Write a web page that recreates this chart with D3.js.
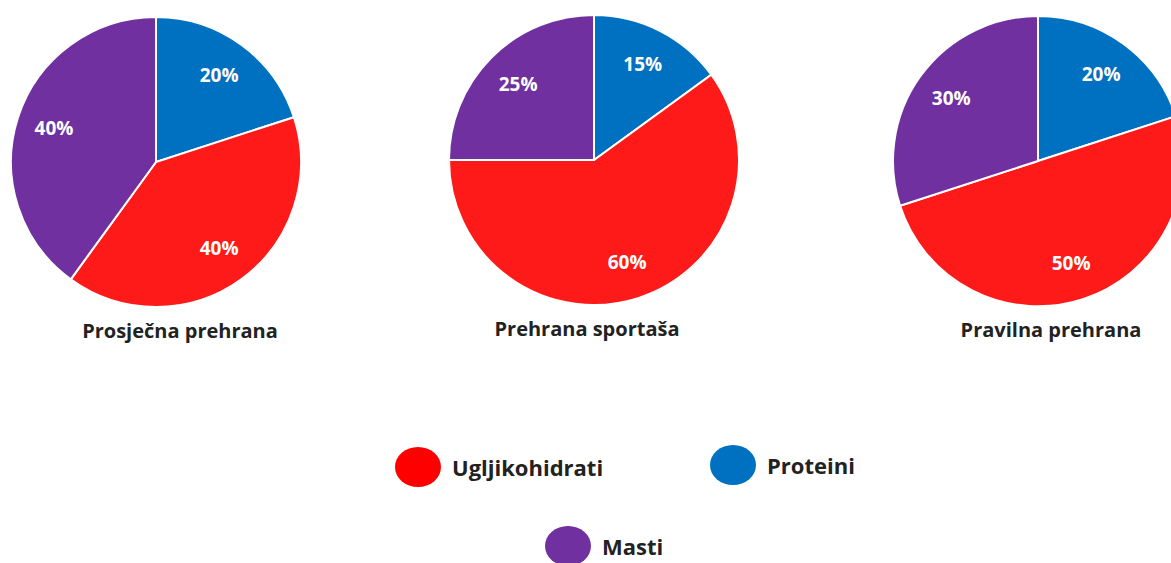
<!DOCTYPE html>
<html>
<head>
<meta charset="utf-8">
<script src="https://cdn.jsdelivr.net/npm/d3@7"></script>
<style>
  body { margin: 0; background: #fff; }
  text { font-family: "Open Sans", "Noto Sans", sans-serif; font-weight: 700; }
</style>
</head>
<body>
<div id="container"></div>
<script>
// data
const categories = ['Proteini', 'Ugljikohidrati', 'Masti'];
const chartTitles = ['Prosječna prehrana', 'Prehrana sportaša', 'Pravilna prehrana'];
const prosjecna = [20, 40, 40];
const sportasa = [15, 60, 25];
const pravilna = [20, 50, 30];
const legendOrder = ['Ugljikohidrati', 'Proteini', 'Masti'];

const colors = d3.scaleOrdinal()
  .domain(categories)
  .range(['#0070C0', '#FF1A1A', '#7030A0']);

const svgWidth = 1171;
const svgHeight = 563;
const radius = 145;
// pie centers and title positions
const centers = [[156, 162], [594, 160], [1038, 161]];
const titleX = [180, 587, 1051];

const svg = d3.select('#container')
  .append('svg')
  .attr('width', svgWidth)
  .attr('height', svgHeight);

const pie = d3.pie().sort(null).value(d => d);
const arc = d3.arc().innerRadius(0).outerRadius(radius);
const labelArc = d3.arc().innerRadius(radius * 0.74).outerRadius(radius * 0.74);

[prosjecna, sportasa, pravilna].forEach(function(values, i) {
  const g = svg.append('g')
    .attr('transform', 'translate(' + centers[i][0] + ',' + centers[i][1] + ')');

  const slices = pie(values);

  g.selectAll('path')
    .data(slices)
    .enter()
    .append('path')
    .attr('d', arc)
    .attr('fill', (d, j) => colors(categories[j]))
    .attr('stroke', '#fff')
    .attr('stroke-width', 2);

  g.selectAll('text.label')
    .data(slices)
    .enter()
    .append('text')
    .attr('class', 'label')
    .attr('transform', d => 'translate(' + labelArc.centroid(d) + ')')
    .attr('text-anchor', 'middle')
    .attr('dy', '0.35em')
    .attr('fill', '#fff')
    .style('font-size', '19px')
    .text(d => d.data + '%');

  svg.append('text')
    .attr('x', titleX[i])
    .attr('y', centers[i][1] + 176)
    .attr('text-anchor', 'middle')
    .attr('fill', '#222')
    .style('font-size', '20px')
    .text(chartTitles[i]);
});

// legend
const legendPos = {
  'Ugljikohidrati': [418, 467],
  'Proteini': [733, 465],
  'Masti': [568, 546]
};

const legend = svg.selectAll('g.legend')
  .data(legendOrder)
  .enter()
  .append('g')
  .attr('class', 'legend')
  .attr('transform', d => 'translate(' + legendPos[d][0] + ',' + legendPos[d][1] + ')');

legend.append('ellipse')
  .attr('rx', 23)
  .attr('ry', 20)
  .attr('fill', d => d === 'Ugljikohidrati' ? '#FF0000' : colors(d));

legend.append('text')
  .attr('x', 34)
  .attr('y', 9)
  .attr('fill', '#222')
  .style('font-size', '22px')
  .text(d => d);
</script>
</body>
</html>
